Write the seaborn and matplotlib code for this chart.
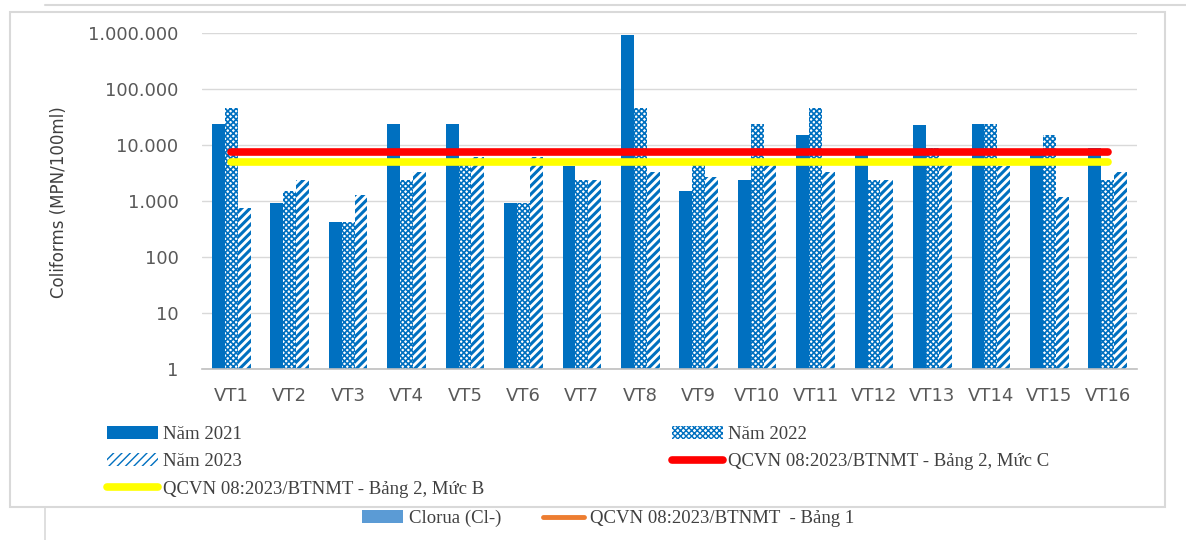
import numpy as np
import pandas as pd
import matplotlib
matplotlib.use("Agg")
import matplotlib.pyplot as plt
import seaborn as sns
from matplotlib.lines import Line2D
from matplotlib.patches import Patch, Rectangle
from matplotlib.ticker import FuncFormatter, NullLocator, LogLocator

# Dữ liệu Coliforms (MPN/100ml) theo vị trí quan trắc
vi_tri = ["VT1", "VT2", "VT3", "VT4", "VT5", "VT6", "VT7", "VT8",
          "VT9", "VT10", "VT11", "VT12", "VT13", "VT14", "VT15", "VT16"]
nam_2021 = [24000, 930, 430, 24000, 24000, 930, 4300, 930000,
            1500, 2400, 15000, 7000, 23000, 24000, 7000, 9000]
nam_2022 = [46000, 1500, 430, 2400, 4600, 930, 2400, 46000,
            4600, 24000, 46000, 2400, 9000, 24000, 15000, 2400]
nam_2023 = [750, 2400, 1300, 3300, 6000, 6000, 2400, 3300,
            2700, 4600, 3300, 2400, 4600, 4300, 1200, 3300]
nhom = ["Năm 2021", "Năm 2022", "Năm 2023"]
muc_c = 7500   # QCVN 08:2023/BTNMT - Bảng 2, Mức C
muc_b = 5000   # QCVN 08:2023/BTNMT - Bảng 2, Mức B

W, H = 1186, 540
BLUE = "#0070C0"
GRAY = "#595959"
SERIF = ["Liberation Serif", "DejaVu Serif"]
HATCH_22 = ("xxxxxx", 1.2)
HATCH_23 = ("////", 2.2)


def fx(px):
    return px / W


def fy(py):
    return 1 - py / H


def build_frame():
    rows = []
    for name, vals in zip(nhom, [nam_2021, nam_2022, nam_2023]):
        for vt, v in zip(vi_tri, vals):
            rows.append({"vi_tri": vt, "nam": name, "gia_tri": v})
    return pd.DataFrame(rows)


def hatched_patch(hatch, hlw):
    p = Patch(facecolor="white", edgecolor=BLUE, linewidth=0, hatch=hatch)
    p.set_hatch_linewidth(hlw)
    return p


def main():
    sns.set_style("white")
    plt.rcParams["font.family"] = ["DejaVu Sans"]
    df = build_frame()

    fig = plt.figure(figsize=(W / 100, H / 100), dpi=100)
    ax = fig.add_axes([fx(202), fy(369), fx(1137) - fx(202), fy(33) - fy(369)])

    sns.barplot(data=df, x="vi_tri", y="gia_tri", hue="nam", order=vi_tri,
                hue_order=nhom, palette=[BLUE, "white", "white"],
                width=0.66, gap=0, linewidth=0, ax=ax, legend=False)

    # kiểu tô cho từng năm
    styles = [(BLUE, None, 0), ("white",) + HATCH_22, ("white",) + HATCH_23]
    for cont, (fc, hatch, hlw) in zip(ax.containers, styles):
        for p in cont:
            p.set_facecolor(fc)
            p.set_edgecolor(BLUE)
            p.set_linewidth(0)
            if hatch:
                p.set_hatch(hatch)
                p.set_hatch_linewidth(hlw)

    pos = np.arange(len(vi_tri))
    sns.lineplot(x=pos, y=np.full(len(pos), muc_c), color="#FF0000",
                 linewidth=5.5, solid_capstyle="round", ax=ax, zorder=5)
    sns.lineplot(x=pos, y=np.full(len(pos), muc_b), color="#FFFF00",
                 linewidth=5.5, solid_capstyle="round", ax=ax, zorder=5)

    ax.set_yscale("log")
    ax.set_ylim(1, 1e6)
    ax.set_xlim(-0.5, len(vi_tri) - 0.5)
    ax.yaxis.set_major_locator(LogLocator(base=10, numticks=10))
    ax.yaxis.set_minor_locator(NullLocator())
    ax.yaxis.set_major_formatter(
        FuncFormatter(lambda v, _: f"{int(round(v)):,}".replace(",", ".")))
    ax.grid(axis="y", color="#d9d9d9", linewidth=1)
    ax.set_axisbelow(True)
    for s in ["top", "right", "left"]:
        ax.spines[s].set_visible(False)
    ax.spines["bottom"].set_color("#bfbfbf")
    ax.spines["bottom"].set_linewidth(1.2)
    ax.tick_params(axis="both", length=0, labelsize=13, labelcolor=GRAY)
    ax.tick_params(axis="x", pad=13)
    ax.tick_params(axis="y", pad=17)
    ax.set_xlabel("")
    ax.set_ylabel("")
    fig.text(fx(59), fy(202), "Coliforms (MPN/100ml)", rotation=90,
             ha="center", va="center", fontsize=12, color="#404040")

    # chú thích
    h2021 = Patch(facecolor=BLUE, edgecolor=BLUE, linewidth=0)
    h2022 = hatched_patch(*HATCH_22)
    h2023 = hatched_patch(*HATCH_23)
    hc = Line2D([], [], color="#FF0000", linewidth=5.5, solid_capstyle="round")
    hb = Line2D([], [], color="#FFFF00", linewidth=5.5, solid_capstyle="round")

    kw = dict(loc="upper left", frameon=False, borderpad=0, borderaxespad=0,
              handlelength=2.7, handleheight=0.65, handletextpad=0.3,
              labelspacing=0.55, prop={"family": SERIF, "size": 13.5},
              labelcolor="#404040")
    fig.legend([h2021, h2023, hb],
               ["Năm 2021", "Năm 2023", "QCVN 08:2023/BTNMT - Bảng 2, Mức B"],
               bbox_to_anchor=(fx(107), fy(426)), **kw)
    fig.legend([h2022, hc],
               ["Năm 2022", "QCVN 08:2023/BTNMT - Bảng 2, Mức C"],
               bbox_to_anchor=(fx(672), fy(426)), **kw)

    # chú thích của biểu đồ phía sau
    kw2 = dict(kw, handlelength=2.2)
    fig.legend([Patch(facecolor="#5B9BD5", linewidth=0)], ["Clorua (Cl-)"],
               bbox_to_anchor=(fx(362), fy(510)), **kw2)
    fig.legend([Line2D([], [], color="#ED7D31", linewidth=3.5)],
               ["QCVN 08:2023/BTNMT  - Bảng 1"],
               bbox_to_anchor=(fx(543), fy(510)), **kw2)

    # khung
    fig.patches.append(Rectangle((fx(10), fy(507)), fx(1165) - fx(10),
                                 fy(12) - fy(507), transform=fig.transFigure,
                                 fill=False, edgecolor="#d9d9d9", linewidth=1.5))
    fig.lines.append(Line2D([fx(45), 1], [fy(5), fy(5)], transform=fig.transFigure,
                            color="#d9d9d9", linewidth=1.5))
    fig.lines.append(Line2D([fx(45), fx(45)], [fy(507), 0], transform=fig.transFigure,
                            color="#d9d9d9", linewidth=1.2))

    fig.savefig("out.png", dpi=100)


if __name__ == "__main__":
    main()
